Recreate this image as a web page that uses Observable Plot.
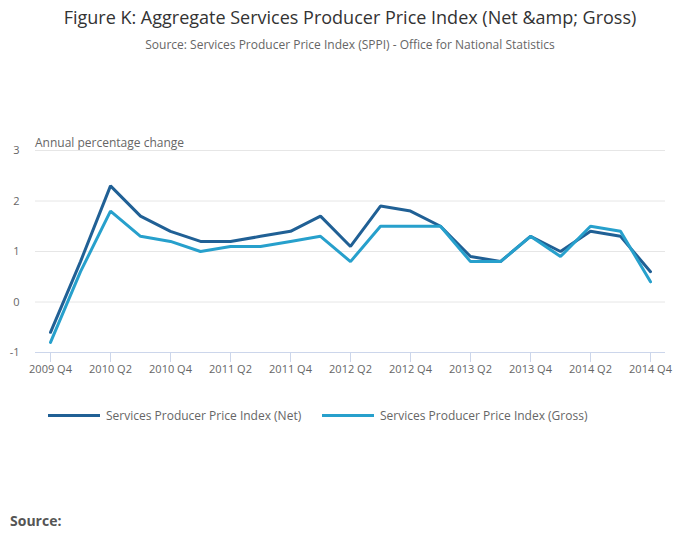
<!DOCTYPE html>
<html>
<head>
<meta charset="utf-8">
<script src="https://cdn.jsdelivr.net/npm/d3@7"></script>
<script src="https://cdn.jsdelivr.net/npm/@observablehq/plot@0.6"></script>
<style>
  html, body { margin: 0; padding: 0; background: #fff; }
  body { font-family: "Open Sans", sans-serif; }
  #wrap { position: relative; width: 700px; height: 549px; overflow: hidden; }
  .abs { position: absolute; white-space: nowrap; }
  #title { top: 5px; left: 0; width: 700px; text-align: center; font-size: 18px; color: #333; }
  #subtitle { top: 36px; left: 0; width: 700px; text-align: center; font-size: 12px; color: #666; }
  #ylabel { top: 134px; left: 35px; font-size: 12px; color: #666; }
  #chart { position: absolute; top: 0; left: 0; }
  .leg { top: 407px; font-size: 12px; color: #666; display: flex; align-items: center; }
  .leg span.sw { display: inline-block; width: 52px; height: 3px; margin-right: 6px; }
  #source { top: 511px; left: 10px; font-size: 14px; font-weight: bold; color: #555; }
</style>
</head>
<body>
<div id="wrap">
  <div id="chart"></div>
  <div class="abs" id="title">Figure K: Aggregate Services Producer Price Index (Net &amp;amp; Gross)</div>
  <div class="abs" id="subtitle">Source: Services Producer Price Index (SPPI) - Office for National Statistics</div>
  <div class="abs" id="ylabel">Annual percentage change</div>
  <div class="abs leg" style="left:48px"><span class="sw" style="background:#206095"></span>Services Producer Price Index (Net)</div>
  <div class="abs leg" style="left:322px"><span class="sw" style="background:#27a0cc"></span>Services Producer Price Index (Gross)</div>
  <div class="abs" id="source">Source:</div>
</div>
<script>
const quarters = [
  "2009 Q4","2010 Q1","2010 Q2","2010 Q3","2010 Q4",
  "2011 Q1","2011 Q2","2011 Q3","2011 Q4",
  "2012 Q1","2012 Q2","2012 Q3","2012 Q4",
  "2013 Q1","2013 Q2","2013 Q3","2013 Q4",
  "2014 Q1","2014 Q2","2014 Q3","2014 Q4"
];
const netValues = [-0.6, 0.8, 2.3, 1.7, 1.4, 1.2, 1.2, 1.3, 1.4, 1.7, 1.1, 1.9, 1.8, 1.5, 0.9, 0.8, 1.3, 1.0, 1.4, 1.3, 0.6];
const grossValues = [-0.8, 0.6, 1.8, 1.3, 1.2, 1.0, 1.1, 1.1, 1.2, 1.3, 0.8, 1.5, 1.5, 1.5, 0.8, 0.8, 1.3, 0.9, 1.5, 1.4, 0.4];
const yTicks = [-1, 0, 1, 2, 3];
const xTickLabels = quarters.filter((q, i) => i % 2 === 0);
const seriesNames = ["Services Producer Price Index (Net)", "Services Producer Price Index (Gross)"];
const seriesColors = ["#206095", "#27a0cc"];

const data = [];
quarters.forEach((q, i) => {
  data.push({quarter: q, value: netValues[i], series: seriesNames[0]});
  data.push({quarter: q, value: grossValues[i], series: seriesNames[1]});
});

const chart = Plot.plot({
  width: 700,
  height: 390,
  marginTop: 150,
  marginBottom: 38,
  marginLeft: 35,
  marginRight: 35,
  style: {fontFamily: "Open Sans, sans-serif", fontSize: "11px", color: "#666", background: "transparent"},
  x: {type: "point", domain: quarters, padding: 0.5, label: null},
  y: {domain: [-1, 3], label: null},
  color: {domain: seriesNames, range: seriesColors},
  marks: [
    Plot.ruleY(yTicks.filter(d => d > -1), {stroke: "#e6e6e6", strokeWidth: 1}),
    Plot.ruleY([-1], {stroke: "#ccd6eb", strokeWidth: 1}),
    Plot.axisY({ticks: yTicks, tickSize: 0, tickPadding: 16, fill: "#666", fontSize: 11, label: null, tickFormat: d => String(d)}),
    Plot.axisX({ticks: xTickLabels, tickSize: 10, tickPadding: 3, stroke: "#ccd6eb", fill: "#666", fontSize: 11, label: null}),
    Plot.line(data, {x: "quarter", y: "value", z: "series", stroke: "series", strokeWidth: 3, strokeLinejoin: "miter", strokeLinecap: "round"})
  ]
});
document.getElementById("chart").appendChild(chart);
</script>
</body>
</html>
